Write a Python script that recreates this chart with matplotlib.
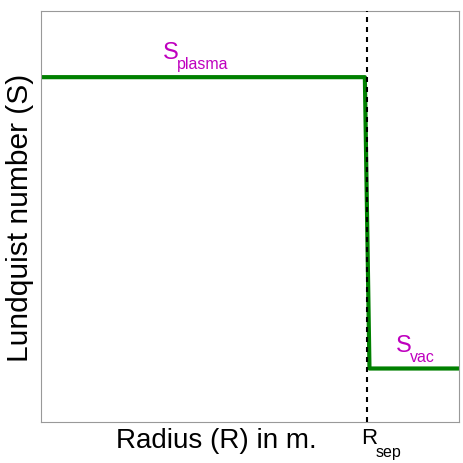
import matplotlib
matplotlib.use('Agg')
from matplotlib import pyplot as plt

plt.rcParams['font.family'] = ['Liberation Sans', 'DejaVu Sans']

# profile of the Lundquist number across the separatrix
radius = [0.0, 0.776, 0.787, 1.0]
lundquist = [0.838, 0.838, 0.130, 0.130]
r_sep = 0.782

# region labels: x, y, main letter, subscript
labels = [
    (0.293, 0.882, 'S', 'plasma'),
    (0.850, 0.170, 'S', 'vac'),
]

fig = plt.figure(figsize=(4.63, 4.63), dpi=100)
ax = fig.add_axes([40.5 / 463, 41 / 463, 418 / 463, 411.5 / 463])

ax.plot(radius, lundquist, color='green', lw=3, solid_joinstyle='round', zorder=2)
ax.axvline(r_sep, color='black', lw=1.5, dashes=(2.4, 2.4), zorder=3)

for x, y, main, sub in labels:
    t = ax.annotate(main, xy=(x, y), color='m',
                    fontsize=17, ha='left', va='baseline')
    ax.annotate(sub, xy=(1, 0), xycoords=t, xytext=(-2, -5),
                textcoords='offset pixels', color='m', fontsize=11.5,
                ha='left', va='baseline')

# separatrix tick label
t = ax.annotate('R', xy=(r_sep, 0), xycoords=('data', 'axes fraction'),
                xytext=(-6, -22), textcoords='offset pixels',
                fontsize=16, ha='left', va='baseline', annotation_clip=False)
ax.annotate('sep', xy=(1, 0), xycoords=t, xytext=(-2, -8),
            textcoords='offset pixels', fontsize=11.5,
            ha='left', va='baseline', annotation_clip=False)

ax.set_xlim(0, 1)
ax.set_ylim(0, 1)
ax.set_xticks([])
ax.set_yticks([])
ax.set_xlabel('Radius (R) in m.', fontsize=20, va='baseline')
ax.xaxis.set_label_coords(0.42, -0.063)
ax.set_ylabel('Lundquist number (S)', fontsize=21.5, va='center')
ax.yaxis.set_label_coords(-0.05, 0.496)
for s in ax.spines.values():
    s.set_color('#999999')

fig.savefig('out.png', dpi=100)
